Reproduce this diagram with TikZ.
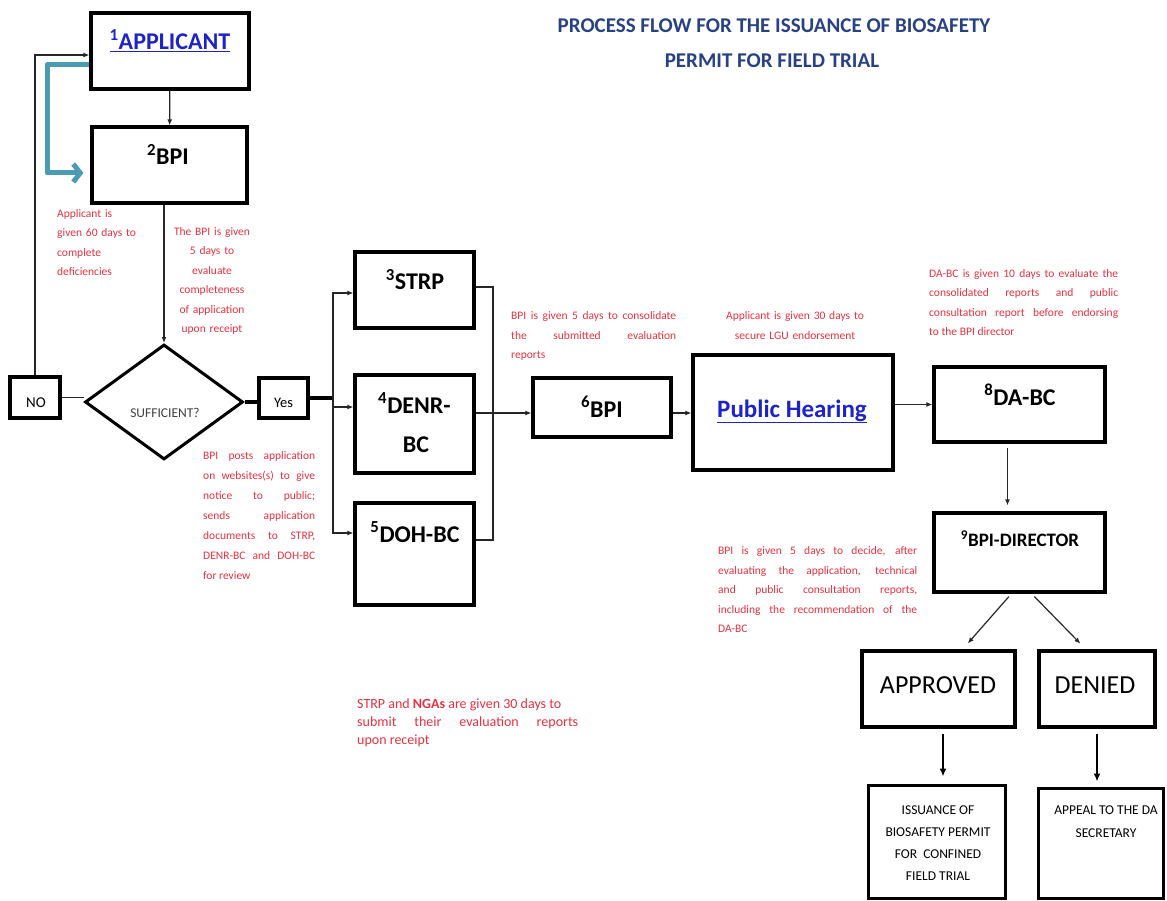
\documentclass[tikz,border=0pt]{standalone}
\usepackage{fontspec}
\setmainfont{Carlito}
\usetikzlibrary{shapes.geometric,arrows.meta}
\definecolor{notered}{RGB}{228,50,65}
\definecolor{linkblue}{RGB}{30,35,200}
\definecolor{titleblue}{RGB}{40,65,130}
\definecolor{loopteal}{RGB}{75,155,178}
\begin{document}
\begin{tikzpicture}[x=1pt,y=-1pt,
        box/.style={draw,rectangle,line width=3.2pt,inner sep=0pt},
        lbl/.style={anchor=base,inner sep=0pt,font=\fontsize{24}{28}\selectfont\bfseries},
        small/.style={anchor=base,inner sep=0pt,font=\fontsize{13.5}{16}\selectfont},
        note/.style={anchor=north west,inner sep=0pt,text=notered,align=justify,
            font=\fontsize{11.5}{19.5}\selectfont},
        wire/.style={line width=1.2pt,black!85},
        flow/.style={wire,-{Latex[length=6pt,width=5pt]}},
        bigflow/.style={line width=2pt,-{Latex[length=8pt,width=7pt]}}]
    \useasboundingbox (0,0) rectangle (1167,901);
    %% Title
    \node[anchor=base,text=titleblue,font=\fontsize{21}{25}\selectfont\bfseries] (title1)
        at (774,33) {PROCESS FLOW FOR THE ISSUANCE OF BIOSAFETY};
    \node[anchor=base,text=titleblue,font=\fontsize{21}{25}\selectfont\bfseries] (title2)
        at (772,68) {PERMIT FOR FIELD TRIAL};
    %% Applicant and BPI
    \node[box,minimum width=158pt,minimum height=76pt] (applicant) at (170,51) {};
    \node[lbl,text=linkblue] (applicantT) at (170,50) {\underline{\textsuperscript{1}APPLICANT}};
    \node[box,minimum width=155pt,minimum height=76pt] (bpi) at (169.5,165) {};
    \node[lbl] (bpiT) at (168,165) {\textsuperscript{2}BPI};
    \draw[flow] (applicant) -- (bpi);
    \node[note,align=left,text width=95pt] (noteA) at (57,209)
        {Applicant is\\given 60 days to\\complete\\deficiencies};
    \node[note,anchor=north,align=center,text width=95pt] (noteB) at (212,227)
        {The BPI is given\\5 days to\\evaluate\\completeness\\of application\\upon receipt};
    %% Sufficient?
    \node[diamond,draw,line width=3pt,minimum width=158pt,minimum height=115pt,inner sep=0pt]
        (suff) at (164,402) {};
    \node[small,text=black!75] (suffT) at (165,417) {SUFFICIENT?};
    \draw[flow] (bpi.south -| suff.north) -- (suff.north);
    \node[box,line width=3.5pt,minimum width=50pt,minimum height=41pt] (no) at (35,397.5) {};
    \node[small,font=\fontsize{15}{18}\selectfont] (noT) at (36,407) {NO};
    \node[box,line width=3.5pt,minimum width=49pt,minimum height=40pt] (yes) at (283.5,398) {};
    \node[small,font=\fontsize{14.5}{18}\selectfont] (yesT) at (283.5,407) {Yes};
    \draw[wire] (no.east) -- (no.east -| suff.west);
    \draw[flow] (no.north) |- ([yshift=-4pt]applicant.west);
    %% Teal return arrow
    \coordinate (tealcorner) at (47,65);
    \draw[loopteal,line width=5pt,line join=round,shorten >=7pt,
        -{Straight Barb[length=7pt,width=18pt]}]
        ([yshift=-14pt]applicant.west) -- (tealcorner) |- ([yshift=-8pt]bpi.west);
    %% Yes to reviewers
    \coordinate (lbus) at (333,400);
    \draw[line width=3.5pt] (suff.east) -- (suff.east -| yes.west);
    \draw[line width=3.5pt] (yes.east) -- (yes.east -| lbus);
    \node[box,minimum width=119pt,minimum height=76pt] (strp) at (414.5,290) {};
    \node[lbl] (strpT) at (415,290) {\textsuperscript{3}STRP};
    \node[box,minimum width=119pt,minimum height=98pt] (denr) at (414.5,424) {};
    \node[lbl] (denrT) at (414.5,413) {\textsuperscript{4}DENR-};
    \node[lbl] (denrT2) at (416,452) {BC};
    \node[box,minimum width=119pt,minimum height=102pt] (doh) at (414.5,554) {};
    \node[lbl] (dohT) at (415,542) {\textsuperscript{5}DOH-BC};
    \draw[flow] (lbus) |- ([yshift=-3pt]strp.west);
    \draw[flow] (lbus) |- ([yshift=17pt]denr.west);
    \draw[flow] (lbus) |- ([yshift=21pt]doh.west);
    \node[note,text width=112pt,font=\fontsize{11.5}{20}\selectfont] (noteC) at (203,451.5)
        {BPI posts application\linebreak on websites(s) to give\linebreak notice to public;\linebreak
        sends application\linebreak documents to STRP,\linebreak DENR-BC and DOH-BC\linebreak for review};
    \node[note,text width=221pt,font=\fontsize{14}{18}\selectfont] (noteD) at (357,699)
        {STRP and \textbf{NGAs} are given 30 days to\\ submit their evaluation reports\linebreak upon receipt};
    %% Consolidation
    \coordinate (rbus) at (493,413);
    \draw[wire] ([yshift=3pt]strp.east) -| (rbus);
    \draw[wire] ([yshift=14pt]doh.east) -| (rbus);
    \node[box,minimum width=138pt,minimum height=59pt] (bpi6) at (602,407.5) {};
    \node[lbl] (bpi6T) at (602,417) {\textsuperscript{6}BPI};
    \draw[flow] ([yshift=11pt]denr.east) -- (rbus) -- (rbus -| bpi6.west);
    \node[note,text width=165pt] (noteE) at (511,311.5)
        {BPI is given 5 days to consolidate\linebreak the submitted evaluation\linebreak reports};
    %% Public hearing
    \node[box,minimum width=200pt,minimum height=115pt] (ph) at (793,412.5) {};
    \node[lbl,text=linkblue,font=\fontsize{25}{30}\selectfont\bfseries] (phT) at (792,417)
        {\underline{Public Hearing}};
    \draw[flow] (rbus -| bpi6.east) -- (rbus -| ph.west);
    \node[note,anchor=north,align=center,text width=170pt] (noteF) at (795,311.5)
        {Applicant is given 30 days to\\secure LGU endorsement};
    %% DA-BC and director
    \node[box,minimum width=171pt,minimum height=75pt] (dabc) at (1019.5,404.5) {};
    \node[lbl] (dabcT) at (1020,405) {\textsuperscript{8}DA-BC};
    \draw[flow] (ph.east |- dabc.west) -- (dabc.west);
    \node[note,text width=189pt] (noteG) at (929,269)
        {DA-BC is given 10 days to evaluate the\linebreak consolidated reports and public\linebreak
        consultation report before endorsing\linebreak to the BPI director};
    \node[box,minimum width=171pt,minimum height=79pt] (bpidir) at (1019.5,552.5) {};
    \node[lbl,font=\fontsize{19}{22}\selectfont\bfseries] (bpidirT) at (1020,546)
        {\textsuperscript{9}BPI-DIRECTOR};
    \draw[flow,shorten <=4pt,shorten >=6pt] ([xshift=-12pt]dabc.south) -- ([xshift=-12pt]bpidir.north);
    \node[note,text width=199pt] (noteH) at (718,546.5)
        {BPI is given 5 days to decide, after\linebreak evaluating the application, technical\linebreak
        and public consultation reports,\linebreak including the recommendation of the\linebreak DA-BC};
    %% Decision
    \node[box,minimum width=153pt,minimum height=76pt] (approved) at (938.5,689) {};
    \node[lbl,font=\fontsize{26}{30}\selectfont] (approvedT) at (938,693) {APPROVED};
    \node[box,minimum width=116pt,minimum height=76pt] (denied) at (1097,689) {};
    \node[lbl,font=\fontsize{26}{30}\selectfont] (deniedT) at (1095,693) {DENIED};
    \draw[flow,shorten <=4pt,shorten >=8pt] ([xshift=-8pt]bpidir.south) -- ([xshift=24pt]approved.north);
    \draw[flow,shorten <=4pt,shorten >=8pt] ([xshift=12pt]bpidir.south) -- ([xshift=-11pt]denied.north);
    \node[box,line width=3pt,minimum width=137pt,minimum height=113pt] (issuance) at (936.5,841.5) {};
    \node[small,anchor=north,align=center,font=\fontsize{13.5}{21.7}\selectfont] (issuanceT)
        at (938,806) {ISSUANCE OF\\BIOSAFETY PERMIT\\FOR~~CONFINED\\FIELD TRIAL};
    \node[box,line width=3pt,minimum width=125pt,minimum height=110pt] (appeal) at (1100.5,843) {};
    \node[small,anchor=north,align=center,font=\fontsize{13.5}{23}\selectfont] (appealT)
        at (1106,806) {APPEAL TO THE DA\\SECRETARY};
    \draw[bigflow,shorten <=5pt,shorten >=7pt] ([xshift=4.5pt]approved.south)
        -- ([xshift=4.5pt]approved.south |- issuance.north);
    \draw[bigflow,shorten <=5pt,shorten >=5pt] (denied.south) -- (denied.south |- appeal.north);
\end{tikzpicture}
\end{document}
